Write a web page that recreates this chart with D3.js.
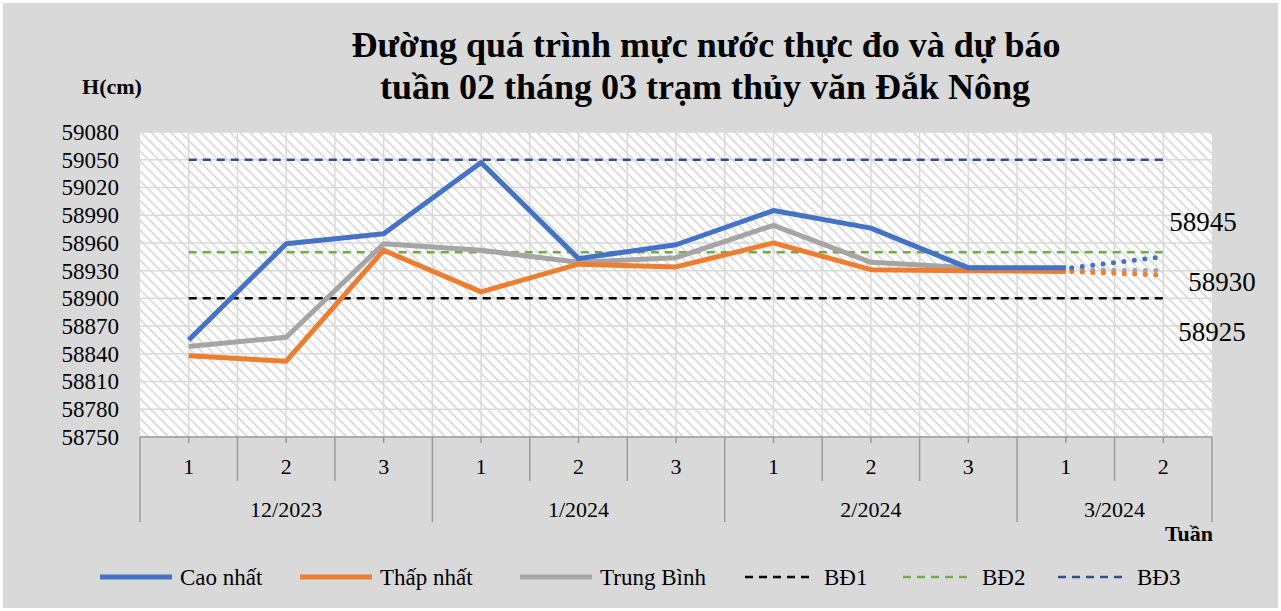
<!DOCTYPE html>
<html>
<head>
<meta charset="utf-8">
<script src="https://cdn.jsdelivr.net/npm/d3@7"></script>
<style>
  body { margin: 0; background: #fff; }
  svg text { font-family: "Liberation Serif", "Times New Roman", serif !important; }
</style>
</head>
<body>
<svg id="chart" width="1281" height="611"></svg>
<script>
// categories
const weeks = ["1", "2", "3", "1", "2", "3", "1", "2", "3", "1", "2"];
const months = ["12/2023", "1/2024", "2/2024", "3/2024"];
const monthStart = [0, 3, 6, 9, 11]; // first week index of each month (+ end)

// observed values (weeks 0..9)
const caoNhat = [58855, 58959, 58970, 59047, 58943, 58958, 58995, 58976, 58933, 58933];
const thapNhat = [58838, 58832, 58952, 58907, 58937, 58934, 58960, 58931, 58930, 58929];
const trungBinh = [58848, 58858, 58959, 58952, 58939, 58944, 58979, 58939, 58933, 58931];

// forecast for week 2 / 3/2024
const duBao = [58945, 58925, 58930]; // cao, thap, trung binh

// warning levels
const baoDong = [58900, 58950, 59050];

const yTicks = d3.range(58750, 59081, 30);

const FONT = "'Liberation Serif', 'Times New Roman', serif";
const svg = d3.select("#chart");
const W = 1281, H = 611;
const plot = { left: 140, right: 1212, top: 132, bottom: 437 };

svg.append("rect").attr("x", 3).attr("y", 3).attr("width", W - 6).attr("height", H - 6)
  .attr("fill", "#d9d9d9");

// hatch pattern
const defs = svg.append("defs");
const pat = defs.append("pattern").attr("id", "hatch").attr("patternUnits", "userSpaceOnUse")
  .attr("width", 7).attr("height", 7).attr("patternTransform", "rotate(45)");
pat.append("rect").attr("width", 7).attr("height", 7).attr("fill", "#ffffff");
pat.append("line").attr("x1", 0).attr("y1", 0).attr("x2", 7).attr("y2", 0)
  .attr("stroke", "#d6d6d6").attr("stroke-width", 3.2);

const x = d3.scaleBand().domain(d3.range(weeks.length)).range([plot.left, plot.right]);
const bw = x.bandwidth();
const cx = i => x(i) + bw / 2;
const y = d3.scaleLinear().domain([58750, 59080]).range([plot.bottom, plot.top]);

svg.append("rect").attr("x", plot.left).attr("y", plot.top)
  .attr("width", plot.right - plot.left).attr("height", plot.bottom - plot.top)
  .attr("fill", "url(#hatch)");

// gridlines
const grid = svg.append("g").attr("stroke", "#d9d9d9").attr("stroke-width", 1.5);
grid.selectAll(".hg").data(yTicks).join("line")
  .attr("x1", plot.left).attr("x2", plot.right)
  .attr("y1", d => y(d)).attr("y2", d => y(d));
const vgrid = [];
d3.range(weeks.length).forEach(i => { vgrid.push(cx(i)); if (i > 0) vgrid.push(x(i)); });
grid.selectAll(".vg").data(vgrid).join("line")
  .attr("x1", d => d).attr("x2", d => d)
  .attr("y1", plot.top).attr("y2", plot.bottom);

// y axis (labels only)
const yAxis = d3.axisLeft(y).tickValues(yTicks).tickSize(0).tickPadding(0).tickFormat(d3.format("d"));
const gy = svg.append("g").attr("transform", `translate(${plot.left - 21},0)`).call(yAxis);
gy.attr("font-family", null).attr("font-size", null);
gy.select(".domain").remove();
gy.selectAll("text").style("font-family", FONT).style("font-size", "23px").attr("fill", "#000");

svg.append("text").attr("x", 112).attr("y", 94).attr("text-anchor", "middle")
  .style("font-size", "22px").attr("font-weight", "bold").text("H(cm)");

// x axis: line + ticks + week labels
const gx = svg.append("g").attr("stroke", "#9a9a9a").attr("stroke-width", 1.5);
gx.append("line").attr("x1", plot.left).attr("x2", plot.right)
  .attr("y1", plot.bottom).attr("y2", plot.bottom);
gx.selectAll(".tk").data(d3.range(weeks.length)).join("line")
  .attr("x1", d => cx(d)).attr("x2", d => cx(d))
  .attr("y1", plot.bottom).attr("y2", plot.bottom + 6);
const sep = d3.range(weeks.length + 1).map(i => ({
  xp: i < weeks.length ? x(i) : plot.right,
  long: monthStart.includes(i)
}));
gx.selectAll(".sp").data(sep).join("line")
  .attr("x1", d => d.xp).attr("x2", d => d.xp)
  .attr("y1", plot.bottom).attr("y2", d => d.long ? 522 : 481);

svg.append("g").selectAll("text").data(weeks).join("text")
  .attr("x", (d, i) => cx(i)).attr("y", 474).attr("text-anchor", "middle")
  .style("font-size", "22px").text(d => d);
svg.append("g").selectAll("text").data(months).join("text")
  .attr("x", (d, i) => (x(monthStart[i]) + (monthStart[i + 1] < weeks.length ? x(monthStart[i + 1]) : plot.right)) / 2)
  .attr("y", 517).attr("text-anchor", "middle").style("font-size", "22px").text(d => d);
svg.append("text").attr("x", 1189).attr("y", 541).attr("text-anchor", "middle")
  .style("font-size", "22px").attr("font-weight", "bold").text("Tuần");

// warning lines
const bdColors = ["#000000", "#70ad47", "#2f4f8f"];
svg.append("g").selectAll("line").data(baoDong).join("line")
  .attr("x1", cx(0)).attr("x2", cx(weeks.length - 1))
  .attr("y1", d => y(d)).attr("y2", d => y(d))
  .attr("stroke", (d, i) => bdColors[i]).attr("stroke-width", 2.5)
  .attr("stroke-dasharray", "8,6");

// series
const series = [
  { vals: trungBinh, fc: duBao[2], color: "#a5a5a5" },
  { vals: thapNhat, fc: duBao[1], color: "#ed7d31" },
  { vals: caoNhat, fc: duBao[0], color: "#4472c4" }
];
const line = d3.line().x((d, i) => cx(i)).y(d => y(d));
series.forEach(s => {
  svg.append("path").attr("d", line(s.vals)).attr("fill", "none")
    .attr("stroke", s.color).attr("stroke-width", 5).attr("stroke-linejoin", "round");
  const n = s.vals.length;
  svg.append("path")
    .attr("d", d3.line()([[cx(n - 1) + 6, y(s.vals[n - 1])], [cx(n), y(s.fc)]]))
    .attr("fill", "none").attr("stroke", s.color).attr("stroke-width", 5)
    .attr("stroke-linecap", "round").attr("stroke-dasharray", "0,10.5");
});

// forecast value labels
const fcLabels = [
  { v: duBao[0], x: 1203, y: 231 },
  { v: duBao[2], x: 1222, y: 291 },
  { v: duBao[1], x: 1212, y: 341 }
];
svg.append("g").selectAll("text").data(fcLabels).join("text")
  .attr("x", d => d.x).attr("y", d => d.y).attr("text-anchor", "middle")
  .style("font-size", "27px").text(d => d.v);

// title
const title = svg.append("text").attr("text-anchor", "middle").style("font-size", "36px")
  .attr("font-weight", "bold");
title.append("tspan").attr("x", 706).attr("y", 57).text("Đường quá trình mực nước thực đo và dự báo");
title.append("tspan").attr("x", 705).attr("y", 99).text("tuần 02 tháng 03 trạm thủy văn Đắk Nông");

// legend
const legend = [
  { name: "Cao nhất", color: "#4472c4", dash: null, x: 100 },
  { name: "Thấp nhất", color: "#ed7d31", dash: null, x: 300 },
  { name: "Trung Bình", color: "#a5a5a5", dash: null, x: 520 },
  { name: "BĐ1", color: "#000000", dash: "8,6", x: 745 },
  { name: "BĐ2", color: "#70ad47", dash: "8,6", x: 903 },
  { name: "BĐ3", color: "#2f4f8f", dash: "8,6", x: 1058 }
];
const lg = svg.append("g").selectAll("g").data(legend).join("g")
  .attr("transform", d => `translate(${d.x},577)`);
lg.append("line").attr("x1", 0).attr("x2", d => d.dash ? 66 : 72)
  .attr("stroke", d => d.color).attr("stroke-width", d => d.dash ? 2.5 : 5)
  .attr("stroke-dasharray", d => d.dash);
lg.append("text").attr("x", d => d.dash ? 79 : 80).attr("y", 8).style("font-size", "23px")
  .text(d => d.name);
</script>
</body>
</html>
